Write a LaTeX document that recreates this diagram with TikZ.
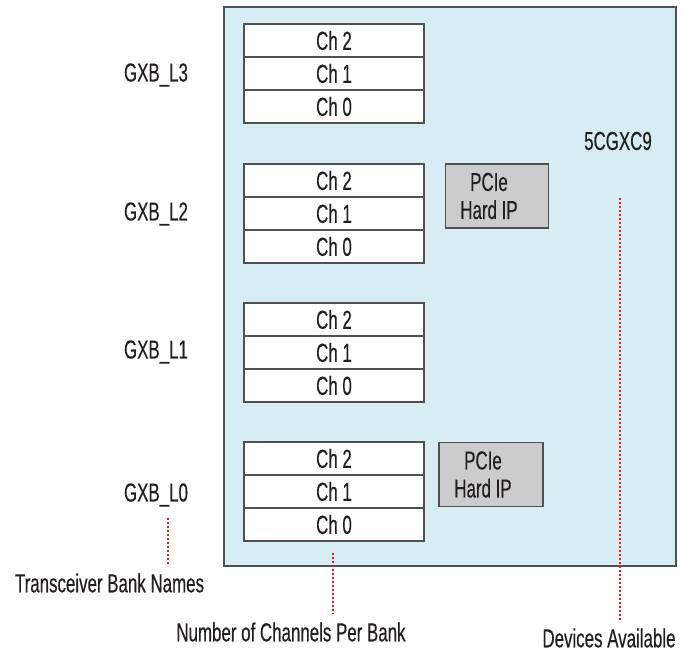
\documentclass[tikz,border=0pt]{standalone}
\usepackage{fontspec}
\setmainfont{Liberation Sans}[FakeStretch=0.65, FakeBold=0.4]
\definecolor{devfill}{RGB}{214,237,244}
\definecolor{ipfill}{RGB}{204,204,204}
\definecolor{edge}{RGB}{80,80,80}
\definecolor{ink}{RGB}{35,31,32}
\definecolor{guide}{RGB}{245,20,30}
\tikzset{
  txt/.style={font=\fontsize{26}{28}\selectfont, text=ink, inner sep=0pt},
  devbox/.style={draw=edge, line width=1.3pt, fill=devfill, minimum width=452pt, minimum height=559pt, inner sep=0pt},
  chan/.style={txt, draw=edge, line width=1.2pt, fill=white, minimum width=180pt, minimum height=33pt},
  pcie/.style={draw=edge, line width=1.2pt, fill=ipfill, minimum width=103pt, minimum height=64pt, inner sep=0pt},
  pcietxt/.style={txt, align=center},
  guideline/.style={draw=guide, line width=2pt, dash pattern=on 2pt off 2pt},
}
\begin{document}
\begin{tikzpicture}[x=1pt, y=-1pt]
\useasboundingbox (0,0) rectangle (683,652);

% device outline
\node[devbox] (dev) at (450,286.5) {};
\node[txt] (devname) at (618,141) {5CGXC9};

% transceiver banks, three channels each
\foreach \b/\top in {3/24, 2/164, 1/303, 0/442} {
  \node[chan] (l\b c2) at (334,\top+16.5) {Ch 2};
  \node[chan] (l\b c1) at (334,\top+49.5) {Ch 1};
  \node[chan] (l\b c0) at (334,\top+82.5) {Ch 0};
}

% bank names
\node[txt] (gxb3) at (156,75) {GXB\_L3};
\node[txt] (gxb2) at (156,214) {GXB\_L2};
\node[txt] (gxb1) at (156,352) {GXB\_L1};
\node[txt] (gxb0) at (156,495) {GXB\_L0};

% PCIe hard IP blocks
\node[pcie] (pcieA) at (497,196) {};
\node[pcietxt] at ([xshift=-8pt]pcieA.center) {PCIe\\Hard IP};
\node[pcie, minimum width=104pt] (pcieB) at (491,474.5) {};
\node[pcietxt] at ([xshift=-8pt]pcieB.center) {PCIe\\Hard IP};

% callout captions
\node[txt] (capbank) at (109.5,583) {Transceiver Bank Names};
\node[txt] (capchan) at (291,632) {Number of Channels Per Bank};
\node[txt] (capdev) at (609,638) {Devices Available};

% dotted callout leaders
\coordinate (bankA) at (168,518);
\coordinate (bankB) at (168,566);
\coordinate (chanA) at (333,553);
\coordinate (chanB) at (333,614);
\coordinate (devA) at (620,198);
\coordinate (devB) at (620,622);
\draw[guideline] (bankA) -- (bankB);
\draw[guideline] (chanA) -- (chanB);
\draw[guideline] (devA) -- (devB);
\end{tikzpicture}
\end{document}
